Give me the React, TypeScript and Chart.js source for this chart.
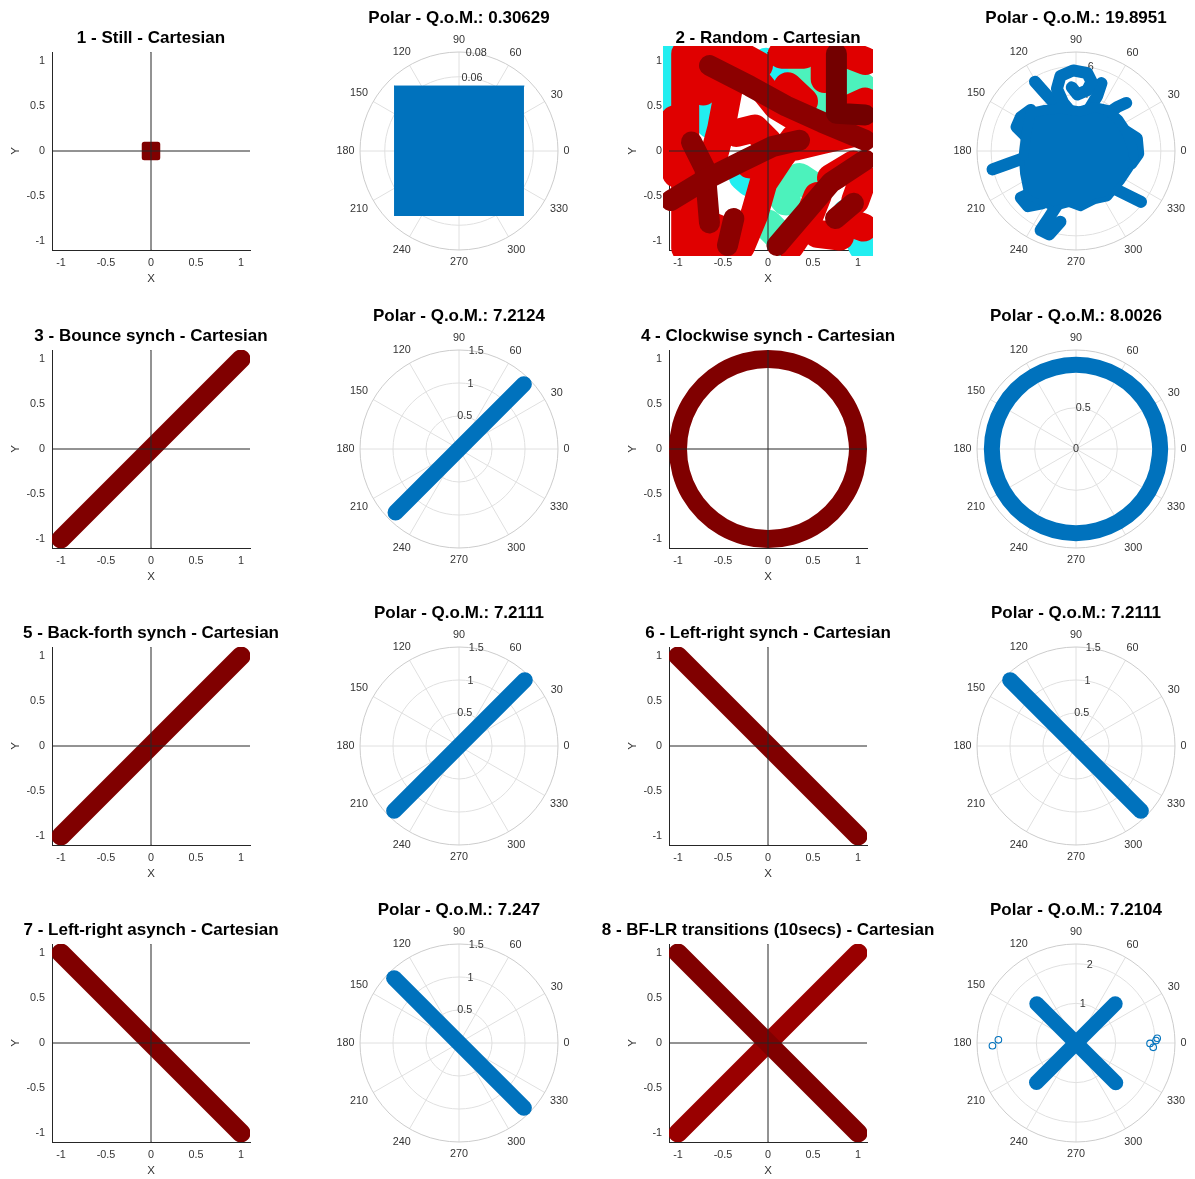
import React, { useEffect, useRef } from "react";
import { Chart, registerables } from "chart.js";

Chart.register(...registerables);

const FONT = '"Liberation Sans", Arial, Helvetica, sans-serif';

// ---------------- texts / ticks ----------------
const CART_TITLES = [
  "1 - Still - Cartesian",
  "2 - Random - Cartesian",
  "3 - Bounce synch - Cartesian",
  "4 - Clockwise synch - Cartesian",
  "5 - Back-forth synch - Cartesian",
  "6 - Left-right synch - Cartesian",
  "7 - Left-right asynch - Cartesian",
  "8 - BF-LR transitions (10secs) - Cartesian",
];
const QOM_VALUES = ["0.30629", "19.8951", "7.2124", "8.0026", "7.2111", "7.2111", "7.247", "7.2104"];
const AXIS_TICKS = [-1, -0.5, 0, 0.5, 1];
const AXIS_LIMITS = [-1.1, 1.1];
const ANGLE_TICKS = [0, 30, 60, 90, 120, 150, 180, 210, 240, 270, 300, 330];
const R_TICKS = [
  [0, 0.02, 0.04, 0.06, 0.08],
  [0, 2, 4, 6],
  [0, 0.5, 1, 1.5],
  [0, 0.5, 1],
  [0, 0.5, 1, 1.5],
  [0, 0.5, 1, 1.5],
  [0, 0.5, 1, 1.5],
  [0, 1, 2],
];
const R_LIMITS = [0.08, 7, 1.5, 1.2, 1.5, 1.5, 1.5, 2.5];

// ---------------- cartesian data (x, y) ----------------
const CROSS_H = [[-1.1, 0], [1.1, 0]];
const CROSS_V = [[0, -1.1], [0, 1.1]];
const STILL_BLOB = [[-0.075, 0.075], [0.075, 0.075], [0.075, -0.075], [-0.075, -0.075]];
const BOUNCE_BAND = [[-1, -1], [1, 1]];
const CLOCKWISE_RING = [
  [0.966, -0.259],
  [1, 0], [0.966, 0.259], [0.866, 0.5], [0.707, 0.707], [0.5, 0.866], [0.259, 0.966],
  [0, 1], [-0.259, 0.966], [-0.5, 0.866], [-0.707, 0.707], [-0.866, 0.5], [-0.966, 0.259],
  [-1, 0], [-0.966, -0.259], [-0.866, -0.5], [-0.707, -0.707], [-0.5, -0.866], [-0.259, -0.966],
  [0, -1], [0.259, -0.966], [0.5, -0.866], [0.707, -0.707], [0.866, -0.5], [0.966, -0.259], [1, 0],
  [0.966, 0.259],
];
const BACKFORTH_BAND = [[-1, -1], [1, 1]];
const LEFTRIGHT_BAND = [[-1, 1], [1, -1]];
const LR_ASYNCH_BAND = [[-1, 1], [1, -1]];
const TRANSITION_BF_BAND = [[-1, -1], [1, 1]];
const TRANSITION_LR_BAND = [[-1, 1], [1, -1]];

// random trajectory traces
const RANDOM_CYAN = [
  [[-1.06, 1.05], [-1.06, 0.45]],
  [[-0.68, 0.58], [-0.63, 0.3]],
  [[-0.27, -0.28], [-0.2, -0.34]],
  [[0.88, -0.7], [1.06, -1.06]],
  [[-0.02, 0.98], [0.08, 0.82]],
];
const RANDOM_GREEN = [
  [[0.15, 0.86], [0.5, 0.76], [0.66, 0.6]],
  [[0.5, 0.6], [0.7, 0.5]],
  [[0.86, 0.85], [1.05, 0.7]],
  [[0.0, -0.82], [0.2, -1.02]],
  [[0.35, -0.3], [0.5, -0.4]],
  [[0.1, -0.42], [0.2, -0.55]],
];
const RANDOM_RED = [
  [[-0.92, 1.08], [-0.92, -1.08]],
  [[-0.72, 1.08], [-0.72, 0.66]],
  [[-0.55, 1.05], [-0.3, 1.06], [-0.1, 0.95]],
  [[-0.42, 0.78], [-0.52, 0.25], [-0.6, -0.05]],
  [[-0.1, 0.75], [0.1, 0.5], [0.3, 0.38], [0.45, 0.22]],
  [[-0.7, -0.1], [-0.8, -0.5], [-0.75, -1.06]],
  [[-0.3, -1.06], [-0.15, -0.7], [-0.05, -0.35], [0.15, -0.05], [0.3, 0.15]],
  [[-0.58, -0.85], [-0.52, -1.06]],
  [[0.15, 1.07], [0.4, 1.07]],
  [[0.63, 1.07], [0.63, 0.8]],
  [[0.9, 1.07], [1.08, 1.0]],
  [[0.25, -1.05], [0.45, -0.75], [0.55, -0.5]],
  [[0.3, 0.05], [0.6, 0.12], [0.95, 0.2], [1.08, 0.28]],
  [[0.7, -0.3], [0.95, -0.15]],
  [[0.97, -0.55], [1.06, -0.3]],
  [[0.55, -0.92], [0.8, -0.95]],
  [[0.92, -0.8], [1.06, -0.85]],
  [[-0.2, -0.15], [0.02, -0.18]],
  [[-1.04, 0.35], [-1.02, -0.25]],
  [[0.86, 0.45], [1.08, 0.55]],
  [[0.22, 0.72], [0.4, 0.55]],
  [[-0.35, 0.2], [-0.15, 0.25], [0.0, 0.1]],
];
const RANDOM_DARK = [
  [[-0.65, 0.95], [-0.2, 0.72], [0.2, 0.5], [0.6, 0.32], [1.08, 0.12]],
  [[-1.08, -0.55], [-0.7, -0.32], [-0.3, -0.12], [0.05, 0.05], [0.35, 0.12]],
  [[0.1, -1.05], [0.4, -0.7], [0.7, -0.35], [1.08, -0.1]],
  [[-0.45, -1.05], [-0.38, -0.75]],
  [[-0.85, 0.1], [-0.7, -0.2], [-0.65, -0.8]],
  [[0.75, -0.75], [0.95, -0.58]],
];
const RANDOM_DARKEST = [
  [[0.76, 1.08], [0.76, 0.42], [1.08, 0.4]],
];

// ---------------- polar data ----------------
const POLAR_STILL_SQUARE = [[-0.0525, 0.0525], [0.0525, 0.0525], [0.0525, -0.0525], [-0.0525, -0.0525]];
// random blob (x, y in radius units)
const BLOB_UPPER = [[-3.7, -0.3], [-3.5, 1.3], [-3.2, 2.7], [-2.2, 2.9], [-1.1, 3.0], [0.3, 2.8], [1.3, 3.1], [2.2, 2.9], [3.0, 2.2], [3.6, 1.3], [4.0, 0.2], [4.1, -0.4]];
const BLOB_LOWER = [[-3.7, -0.3], [-3.6, -1.6], [-3.3, -3.1], [-2.4, -3.5], [-1.6, -3.9], [-0.5, -3.6], [0.3, -3.9], [1.3, -3.4], [2.2, -3.2], [3.1, -2.1], [3.7, -1.2], [4.1, -0.4]];
const BLOB_ARMS = [
  [[-0.4, 2.8], [-0.9, 3.4], [-1.35, 4.4], [-1.1, 5.3], [-0.2, 5.7], [0.8, 5.5], [1.1, 4.9], [0.8, 4.3], [0.1, 4.0], [-0.3, 4.5]],
  [[-1.1, 2.9], [-2.1, 4.0], [-2.9, 4.9]],
  [[0.9, 2.9], [1.5, 3.9], [1.8, 4.8]],
  [[2.0, 2.5], [2.9, 3.1], [3.55, 3.4]],
  [[3.5, 1.4], [4.3, 0.9], [4.4, -0.2], [3.9, -0.9]],
  [[2.6, -2.6], [3.6, -3.1], [4.6, -3.6]],
  [[-1.2, -3.6], [-1.9, -4.7], [-2.5, -5.6], [-1.9, -5.9], [-1.1, -5.0]],
  [[-3.4, -0.4], [-4.8, -0.9], [-5.9, -1.3]],
  [[-3.4, 0.9], [-4.2, 1.7], [-3.9, 2.4], [-3.2, 2.9]],
  [[-3.0, -2.9], [-3.9, -3.3], [-3.4, -3.9], [-2.4, -3.7]],
];
// [angle deg, radius]
const POLAR_BOUNCE = [[45, 1.39], [225, 1.36]];
const POLAR_RING = [
  [345, 1.02],
  [0, 1.02], [15, 1.02], [30, 1.02], [45, 1.02], [60, 1.02], [75, 1.02], [90, 1.02], [105, 1.02],
  [120, 1.02], [135, 1.02], [150, 1.02], [165, 1.02], [180, 1.02], [195, 1.02], [210, 1.02], [225, 1.02],
  [240, 1.02], [255, 1.02], [270, 1.02], [285, 1.02], [300, 1.02], [315, 1.02], [330, 1.02], [345, 1.02], [360, 1.02],
  [375, 1.02],
];
const POLAR_BACKFORTH = [[45, 1.41], [225, 1.39]];
const POLAR_LEFTRIGHT = [[135, 1.41], [315, 1.39]];
const POLAR_LR_ASYNCH = [[135, 1.39], [315, 1.39]];
const POLAR_TRANS_BF = [[45, 1.4], [225, 1.41]];
const POLAR_TRANS_LR = [[135, 1.4], [315, 1.42]];
const POLAR_TRANS_OUTLIERS = [[-2.11, -0.07], [-1.96, 0.08], [1.87, -0.01], [1.95, -0.11], [2.05, 0.12], [2.02, 0.06]];

// ---------------- layout ----------------
const ROW_CENTERS = [151, 449, 746, 1043];
const CART_CENTERS = [151, 768];
const POLAR_CENTERS = [459, 1076];

const DARK_RED = "#800000";
const BF_RED = "#990000";
const BLUE = "#0072BD";
const TICK_SIZE = 10.8;

const xy = (pts: number[][]) => pts.map(([x, y]) => ({ x, y }));
const pol = (pts: number[][]) =>
  pts.map(([deg, r]) => ({ x: r * Math.cos((deg * Math.PI) / 180), y: r * Math.sin((deg * Math.PI) / 180) }));

function line(data: any[], color: string, width: number, order: number, extra: any = {}) {
  return {
    type: "line",
    data,
    borderColor: color,
    backgroundColor: color,
    borderWidth: width,
    borderCapStyle: "round",
    borderJoinStyle: "round",
    pointRadius: 0,
    pointHoverRadius: 0,
    pointHitRadius: 0,
    tension: 0,
    fill: false,
    order,
    ...extra,
  };
}

const CART_BUILDERS: Array<() => any[]> = [
  () => [
    line(xy(STILL_BLOB.slice(0, 2)), DARK_RED, 1, 2, { fill: { value: STILL_BLOB[2][1] } }),
    line(xy([...STILL_BLOB, STILL_BLOB[0]]), DARK_RED, 5, 1),
  ],
  () => [
    ...RANDOM_CYAN.map((p) => line(xy(p), "#22eef0", 30, 5, { clip: 6 })),
    ...RANDOM_GREEN.map((p) => line(xy(p), "#4cf2bc", 30, 5, { clip: 6 })),
    ...RANDOM_RED.map((p) => line(xy(p), "#e00000", 28, 4, { clip: 6 })),
    ...RANDOM_DARK.map((p) => line(xy(p), "#8c0000", 21, 3, { clip: 6 })),
    ...RANDOM_DARKEST.map((p) => line(xy(p), "#730000", 21, 2, { clip: 6 })),
  ],
  () => [line(xy(BOUNCE_BAND), DARK_RED, 19, 1)],
  () => [line(xy(CLOCKWISE_RING), DARK_RED, 18, 1, { tension: 0.4 })],
  () => [line(xy(BACKFORTH_BAND), DARK_RED, 19, 1)],
  () => [line(xy(LEFTRIGHT_BAND), DARK_RED, 19, 1)],
  () => [line(xy(LR_ASYNCH_BAND), DARK_RED, 19, 1)],
  () => [line(xy(TRANSITION_LR_BAND), DARK_RED, 19, 1), line(xy(TRANSITION_BF_BAND), BF_RED, 19, 2)],
];

const POLAR_BUILDERS: Array<() => any[]> = [
  () => [line(xy(POLAR_STILL_SQUARE.slice(0, 2)), BLUE, 1, 1, { fill: { value: POLAR_STILL_SQUARE[2][1] } })],
  () => [
    line(xy(BLOB_UPPER), BLUE, 10, 1, { fill: "+1" }),
    line(xy(BLOB_LOWER), BLUE, 10, 1),
    ...BLOB_ARMS.map((p) => line(xy(p), BLUE, 12, 1)),
  ],
  () => [line(pol(POLAR_BOUNCE), BLUE, 16, 1)],
  () => [line(pol(POLAR_RING), BLUE, 16, 1, { tension: 0.4 })],
  () => [line(pol(POLAR_BACKFORTH), BLUE, 16, 1)],
  () => [line(pol(POLAR_LEFTRIGHT), BLUE, 16, 1)],
  () => [line(pol(POLAR_LR_ASYNCH), BLUE, 16, 1)],
  () => [
    line(pol(POLAR_TRANS_BF), BLUE, 15, 1),
    line(pol(POLAR_TRANS_LR), BLUE, 15, 1),
    {
      type: "line",
      data: xy(POLAR_TRANS_OUTLIERS),
      showLine: false,
      pointRadius: 3.3,
      pointStyle: "circle",
      pointBackgroundColor: "rgba(0,0,0,0)",
      pointBorderColor: BLUE,
      pointBorderWidth: 1.1,
      order: 1,
    },
  ],
];

function makeTitle(text: string, offset: number) {
  return {
    id: "subTitle",
    afterDraw(chart: any) {
      const { ctx, chartArea } = chart;
      ctx.save();
      ctx.font = `bold 17px ${FONT}`;
      ctx.fillStyle = "#000";
      ctx.textAlign = "center";
      ctx.textBaseline = "alphabetic";
      ctx.fillText(text, (chartArea.left + chartArea.right) / 2, chartArea.top - offset);
      ctx.restore();
    },
  };
}

function makePolarGrid(rmax: number, rticks: number[]) {
  return {
    id: "polarGrid",
    beforeDatasetsDraw(chart: any) {
      const { ctx } = chart;
      const xs = chart.scales.x;
      const ys = chart.scales.y;
      const cx = xs.getPixelForValue(0);
      const cy = ys.getPixelForValue(0);
      const R = xs.getPixelForValue(rmax) - cx;
      ctx.save();
      ctx.lineWidth = 1;
      ctx.strokeStyle = "#e0e0e0";
      for (const t of rticks) {
        if (t <= 0 || t >= rmax - 1e-9) continue;
        const r = xs.getPixelForValue(t) - cx;
        ctx.beginPath();
        ctx.arc(cx, cy, r, 0, Math.PI * 2);
        ctx.stroke();
      }
      for (const a of ANGLE_TICKS) {
        const rad = (a * Math.PI) / 180;
        ctx.beginPath();
        ctx.moveTo(cx, cy);
        ctx.lineTo(cx + R * Math.cos(rad), cy - R * Math.sin(rad));
        ctx.stroke();
      }
      ctx.strokeStyle = "#cccccc";
      ctx.beginPath();
      ctx.arc(cx, cy, R, 0, Math.PI * 2);
      ctx.stroke();
      ctx.font = `${TICK_SIZE}px ${FONT}`;
      ctx.fillStyle = "#333";
      ctx.textAlign = "center";
      ctx.textBaseline = "middle";
      for (const a of ANGLE_TICKS) {
        const rad = (a * Math.PI) / 180;
        const c = Math.cos(rad);
        const s = Math.sin(rad);
        const label = String(a);
        const w = ctx.measureText(label).width;
        const d = R + 5.5 + (Math.abs(c) * w) / 2 + Math.abs(s) * 6.5;
        ctx.fillText(label, cx + d * c, cy - d * s);
      }
      const ra = (80 * Math.PI) / 180;
      for (const t of rticks) {
        const r = xs.getPixelForValue(t) - cx;
        ctx.fillText(String(t), cx + r * Math.cos(ra), cy - r * Math.sin(ra));
      }
      ctx.restore();
    },
  };
}

function cartesianConfig(k: number): any {
  const tickFont = { family: FONT, size: TICK_SIZE };
  const labelFont = { family: FONT, size: 11.5 };
  const common = () => ({
    type: "linear",
    min: AXIS_LIMITS[0],
    max: AXIS_LIMITS[1],
    grid: { display: false, drawTicks: false, tickLength: 0 },
    border: { display: true, color: "#262626", width: 1 },
    afterBuildTicks: (s: any) => {
      s.ticks = AXIS_TICKS.map((v) => ({ value: v }));
    },
    ticks: {
      color: "#333",
      font: tickFont,
      padding: 7,
      autoSkip: false,
      maxRotation: 0,
      minRotation: 0,
      callback: (v: any) => String(v),
    },
  });
  return {
    type: "line",
    data: {
      datasets: [
        line(xy(CROSS_H), "#262626", 1, 0),
        line(xy(CROSS_V), "#262626", 1, 0),
        ...CART_BUILDERS[k](),
      ],
    },
    options: {
      animation: false,
      responsive: false,
      maintainAspectRatio: false,
      devicePixelRatio: 1,
      events: [],
      layout: { padding: { top: 36, right: 76, bottom: 0, left: 0 } },
      plugins: { legend: { display: false }, tooltip: { enabled: false }, title: { display: false } },
      scales: {
        x: {
          ...common(),
          position: "bottom",
          afterFit: (s: any) => {
            s.height = 42;
          },
          title: { display: true, text: "X", color: "#333", font: labelFont, padding: { top: 0, bottom: 6 } },
        },
        y: {
          ...common(),
          position: "left",
          afterFit: (s: any) => {
            s.width = 76;
          },
          title: { display: true, text: "Y", color: "#333", font: labelFont, padding: { top: 33, bottom: 0 } },
        },
      },
    },
    plugins: [makeTitle(CART_TITLES[k], 9.3)],
  };
}

function polarConfig(k: number): any {
  const rmax = R_LIMITS[k];
  return {
    type: "line",
    data: { datasets: POLAR_BUILDERS[k]() },
    options: {
      animation: false,
      responsive: false,
      maintainAspectRatio: false,
      devicePixelRatio: 1,
      events: [],
      layout: { padding: 51 },
      plugins: { legend: { display: false }, tooltip: { enabled: false }, title: { display: false } },
      scales: {
        x: { type: "linear", min: -rmax, max: rmax, display: false },
        y: { type: "linear", min: -rmax, max: rmax, display: false },
      },
    },
    plugins: [makeTitle("Polar - Q.o.M.: " + QOM_VALUES[k], 28.7), makePolarGrid(rmax, R_TICKS[k])],
  };
}

function ChartCanvas({ left, top, width, height, make }: any) {
  const ref = useRef<HTMLCanvasElement | null>(null);
  useEffect(() => {
    if (!ref.current) return;
    const chart = new Chart(ref.current, make());
    return () => chart.destroy();
  }, []);
  return (
    <canvas
      ref={ref}
      width={width}
      height={height}
      style={{ position: "absolute", left, top, width, height }}
    />
  );
}

export default function App() {
  const items: any[] = [];
  for (let k = 0; k < 8; k++) {
    const row = Math.floor(k / 2);
    const col = k % 2;
    const cx = CART_CENTERS[col];
    const cy = ROW_CENTERS[row];
    const px = POLAR_CENTERS[col];
    items.push(
      <ChartCanvas key={"c" + k} left={cx - 175} top={cy - 135} width={350} height={276} make={() => cartesianConfig(k)} />
    );
    items.push(
      <ChartCanvas key={"p" + k} left={px - 150} top={cy - 150} width={300} height={300} make={() => polarConfig(k)} />
    );
  }
  return (
    <div
      style={{
        position: "absolute",
        left: 0,
        top: 0,
        width: 1195,
        height: 1179,
        overflow: "hidden",
        background: "#fff",
      }}
    >
      {items}
    </div>
  );
}
